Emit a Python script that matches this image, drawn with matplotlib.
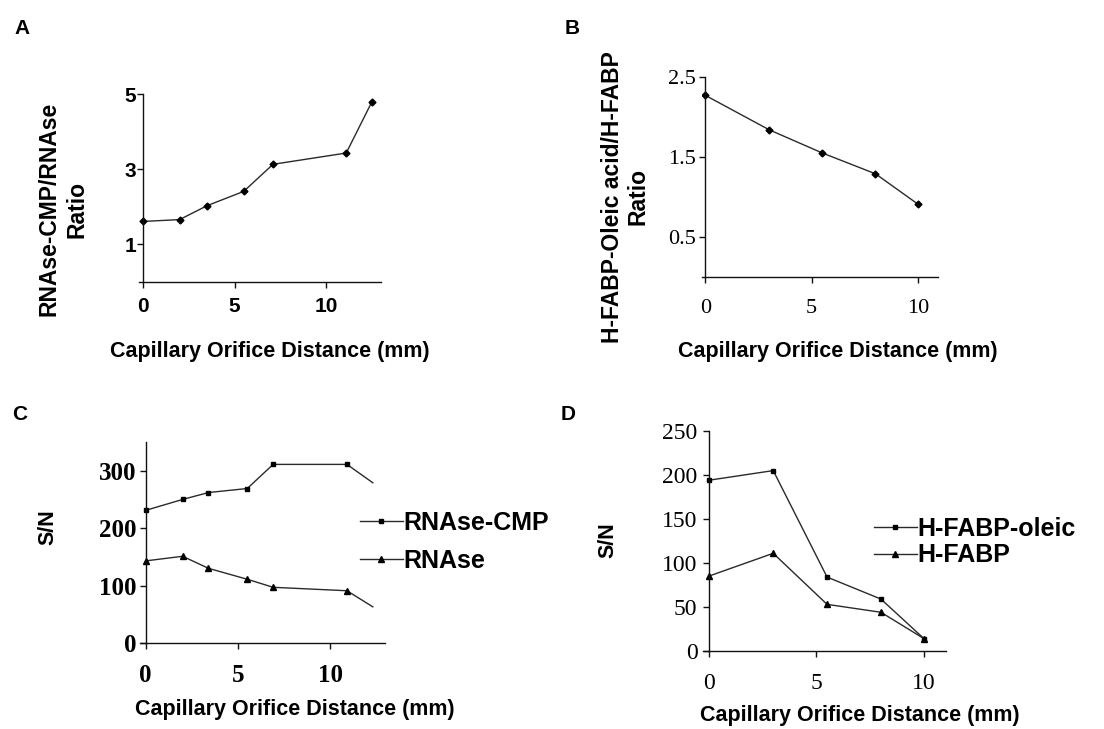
import matplotlib.pyplot as plt
import numpy as np

# A: ratio RNAse-CMP / RNAse vs capillary distance
dist_a = [0, 2.0, 3.5, 5.5, 7.1, 11.1, 12.5]
ratio_a = [1.61, 1.66, 2.03, 2.41, 3.13, 3.43, 4.79]

# B: ratio H-FABP-oleic acid / H-FABP
dist_b = [0, 3, 5.5, 8, 10]
ratio_b = [2.27, 1.84, 1.55, 1.29, 0.91]

# C: S/N for RNAse-CMP and RNAse
dist_c = [0, 2.0, 3.4, 5.5, 6.9, 10.9, 12.3]
sn_rnase_cmp = [231, 250, 262, 269, 311, 311, 279]
sn_rnase = [143, 151, 130, 111, 97, 91, 63]

# D: S/N for H-FABP-oleic and H-FABP
dist_d = [0, 3, 5.5, 8, 10]
sn_fabp_oleic = [194, 205, 84, 59, 14]
sn_fabp = [85, 111, 53, 44, 14]

W, H = 1104, 729
sans = 'Liberation Sans'
serif = 'Liberation Serif'
lc = '#2a2a2a'

fig = plt.figure(figsize=(W / 100, H / 100), dpi=100)


def px_axes(l, t, r, b):
    # axes from pixel box (left, top, right, bottom)
    return fig.add_axes([l / W, 1 - b / H, (r - l) / W, (b - t) / H])


def style(ax, xlim, ylim, yticks, tickfont, tsize, tweight='normal', xpad=7, ypad=4):
    ax.set_xlim(*xlim)
    ax.set_ylim(*ylim)
    ax.spines['top'].set_visible(False)
    ax.spines['right'].set_visible(False)
    ax.spines['left'].set_position(('data', 0))
    for s in ['left', 'bottom']:
        ax.spines[s].set_linewidth(1.0)
        ax.spines[s].set_color('#111111')
    ax.set_xticks([0, 5, 10])
    ax.set_yticks(yticks)
    ax.tick_params(direction='out', length=4, width=1, color='#111111')
    ax.tick_params(axis='x', pad=xpad)
    ax.tick_params(axis='y', pad=ypad)
    for lab in ax.get_xticklabels() + ax.get_yticklabels():
        lab.set_fontfamily(tickfont)
        lab.set_fontsize(tsize)
        lab.set_fontweight(tweight)


def label(x, y, s, rot=0, size=15.5, ls=1.25):
    fig.text(x / W, 1 - y / H, s, rotation=rot, ha='center', va='center',
             family=sans, fontsize=size, fontweight='bold', linespacing=ls,
             multialignment='center')


def legend(ax, x, y, spacing):
    ax.legend(loc='center left', bbox_to_anchor=(x / W, 1 - y / H),
              bbox_transform=fig.transFigure, frameon=False, handlelength=1.7,
              handletextpad=0.05, labelspacing=spacing, borderpad=0,
              borderaxespad=0, prop={'family': sans, 'size': 18, 'weight': 'bold'})


# panel A
ax = px_axes(139, 94, 381, 282)
ax.plot(dist_a, ratio_a, color=lc, lw=1.0, marker='D', ms=3.5, mfc='k', mec='k')
style(ax, (-0.22, 13.0), (0, 5), [1, 3, 5], sans, 15, 'bold', xpad=7, ypad=1)
label(22, 28, 'A', size=15)
label(270, 352, 'Capillary Orifice Distance (mm)')
label(63, 209, 'RNAse-CMP/RNAse\nRatio', rot=90, size=16.5)

# panel B
ax = px_axes(702, 77, 938, 277)
ax.plot(dist_b, ratio_b, color=lc, lw=1.0, marker='D', ms=3.5, mfc='k', mec='k')
style(ax, (-0.16, 10.94), (0, 2.5), [0.5, 1.5, 2.5], serif, 16, xpad=12, ypad=3)
label(572, 28, 'B', size=15)
label(838, 352, 'Capillary Orifice Distance (mm)')
label(625, 197, 'H-FABP-Oleic acid/H-FABP\nRatio', rot=90, size=16.5, ls=1.15)

# panel C
ax = px_axes(140, 442, 385, 643)
ax.plot(dist_c, sn_rnase_cmp, color=lc, lw=1.0, marker='s', ms=3, mfc='k', mec='k',
        markevery=list(range(len(dist_c) - 1)), label='RNAse-CMP')
ax.plot(dist_c, sn_rnase, color=lc, lw=1.0, marker='^', ms=5, mfc='k', mec='k',
        markevery=list(range(len(dist_c) - 1)), label='RNAse')
style(ax, (-0.31, 12.96), (0, 350), [0, 100, 200, 300], serif, 18, 'bold', xpad=11, ypad=3)
legend(ax, 360, 542, 0.55)
label(20, 415, 'C', size=15)
label(295, 709, 'Capillary Orifice Distance (mm)')
label(48, 527, 'S/N', rot=90, size=15.5)

# panel D
ax = px_axes(703, 431, 946, 651)
ax.plot(dist_d, sn_fabp_oleic, color=lc, lw=1.0, marker='s', ms=3, mfc='k', mec='k',
        label='H-FABP-oleic')
ax.plot(dist_d, sn_fabp, color=lc, lw=1.0, marker='^', ms=5, mfc='k', mec='k',
        label='H-FABP')
style(ax, (-0.26, 11.02), (0, 250), [0, 50, 100, 150, 200, 250], serif, 17,
      xpad=12, ypad=4)
legend(ax, 874, 542, 0.12)
label(568, 415, 'D', size=15)
label(860, 716, 'Capillary Orifice Distance (mm)')
label(608, 540, 'S/N', rot=90, size=15.5)

fig.savefig('out.png', dpi=100, facecolor='white')
